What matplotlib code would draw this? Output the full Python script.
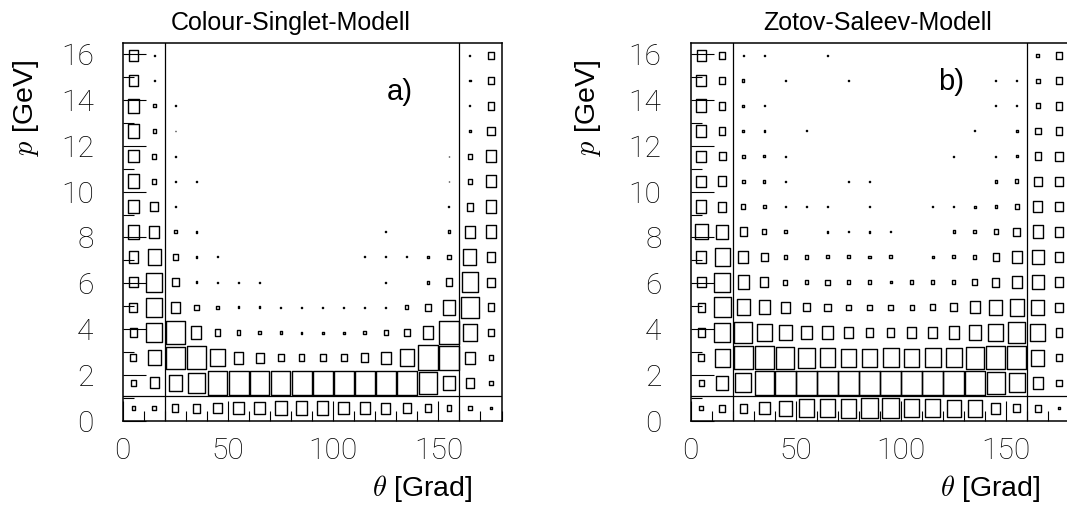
import numpy as np
import matplotlib.pyplot as plt
from matplotlib.patches import Rectangle
from matplotlib.collections import PatchCollection
from matplotlib.ticker import MultipleLocator

plt.rcParams['mathtext.fontset'] = 'cm'

W, H = 1067, 518

# bins: theta 0..180 in 10 deg, p 0..16.5 in 1.1 GeV
theta_edges = np.arange(0, 181, 10)
p_edges = np.linspace(0, 16.5, 16)
theta_cuts = [20, 160]
p_cut = 1.1

# relative box size (percent of the cell) per p bin (rows, low p first), per theta bin
cs_sizes = [
    [16, 19, 29, 35, 40, 48, 50, 57, 55, 55, 50, 48, 44, 38, 30, 22, 18, 11],
    [24, 44, 63, 79, 94, 95, 94, 94, 94, 94, 94, 95, 95, 95, 86, 55, 40, 18],
    [30, 60, 88, 90, 67, 46, 38, 29, 27, 30, 30, 35, 48, 67, 98, 95, 48, 20],
    [33, 76, 88, 48, 27, 18, 15, 10, 8, 8, 8, 15, 17, 27, 50, 94, 70, 30],
    [37, 76, 46, 20, 12, 8, 8, 4, 4, 4, 4, 4, 5, 15, 30, 57, 83, 33],
    [42, 76, 32, 8, 5, 5, 5, 0, 0, 0, 0, 0, 5, 0, 12, 30, 80, 35],
    [45, 63, 22, 6, 4, 0, 0, 0, 0, 0, 0, 4, 4, 4, 8, 17, 62, 41],
    [55, 48, 13, 6, 0, 0, 0, 0, 0, 0, 0, 0, 4, 0, 0, 10, 47, 50],
    [55, 37, 5, 0, 0, 0, 0, 0, 0, 0, 0, 0, 0, 0, 0, 5, 32, 50],
    [55, 19, 3, 3, 0, 0, 0, 0, 0, 0, 0, 0, 0, 0, 0, 3, 19, 48],
    [50, 19, 5, 0, 0, 0, 0, 0, 0, 0, 0, 0, 0, 0, 0, 3, 19, 48],
    [55, 13, 3, 0, 0, 0, 0, 0, 0, 0, 0, 0, 0, 0, 0, 0, 8, 35],
    [55, 13, 3, 0, 0, 0, 0, 0, 0, 0, 0, 0, 0, 0, 0, 0, 5, 30],
    [45, 6, 0, 0, 0, 0, 0, 0, 0, 0, 0, 0, 0, 0, 0, 0, 6, 29],
    [42, 6, 0, 0, 0, 0, 0, 0, 0, 0, 0, 0, 0, 0, 0, 0, 5, 27],
]

zs_sizes = [
    [18, 27, 35, 50, 59, 71, 71, 75, 79, 81, 71, 71, 67, 67, 44, 32, 27, 10],
    [22, 55, 75, 93, 97, 97, 97, 97, 97, 97, 97, 97, 97, 97, 86, 75, 48, 25],
    [28, 71, 90, 90, 86, 79, 75, 71, 70, 76, 71, 75, 75, 86, 90, 92, 62, 30],
    [33, 76, 86, 71, 59, 50, 48, 41, 37, 35, 40, 40, 48, 59, 71, 80, 70, 32],
    [35, 80, 63, 55, 43, 32, 30, 22, 20, 20, 20, 25, 32, 48, 60, 67, 62, 35],
    [42, 76, 54, 37, 20, 18, 20, 15, 13, 10, 15, 15, 17, 25, 35, 50, 58, 38],
    [45, 71, 48, 32, 15, 13, 12, 12, 10, 12, 0, 10, 12, 15, 30, 48, 57, 38],
    [60, 55, 35, 20, 12, 0, 8, 5, 7, 5, 0, 0, 10, 12, 20, 32, 50, 40],
    [50, 40, 18, 13, 6, 5, 6, 0, 6, 0, 0, 5, 5, 8, 12, 18, 42, 37],
    [45, 40, 13, 10, 5, 0, 0, 4, 5, 0, 0, 0, 0, 0, 10, 15, 35, 35],
    [45, 32, 13, 8, 5, 0, 0, 0, 0, 0, 0, 0, 4, 0, 4, 10, 30, 35],
    [48, 30, 8, 6, 0, 4, 0, 0, 0, 0, 0, 0, 0, 4, 0, 10, 26, 32],
    [50, 30, 8, 3, 0, 0, 0, 0, 0, 0, 0, 0, 0, 0, 4, 5, 20, 32],
    [45, 27, 10, 0, 5, 0, 0, 4, 0, 0, 0, 0, 0, 0, 5, 4, 16, 30],
    [42, 27, 5, 4, 0, 0, 5, 0, 0, 0, 0, 0, 0, 0, 0, 0, 15, 30],
]

titles = ['Colour-Singlet-Modell', 'Zotov-Saleev-Modell']
tags = ['a)', 'b)']


def px(x, y):
    return x / W, 1 - y / H


def draw_boxes(ax, sizes):
    s = np.array(sizes) / 100.0
    rects = []
    for j in range(s.shape[0]):
        for i in range(s.shape[1]):
            f = s[j, i]
            if f <= 0:
                continue
            w = (theta_edges[i + 1] - theta_edges[i]) * f
            h = (p_edges[j + 1] - p_edges[j]) * f
            cx = (theta_edges[i] + theta_edges[i + 1]) / 2
            cy = (p_edges[j] + p_edges[j + 1]) / 2
            rects.append(Rectangle((cx - w / 2, cy - h / 2), w, h))
    ax.add_collection(PatchCollection(rects, facecolor='none',
                                      edgecolor='black', linewidth=1.0))


fig = plt.figure(figsize=(W / 100, H / 100), dpi=100)

lefts = [122.8, 690.7]
for k, (sizes, left) in enumerate(zip([cs_sizes, zs_sizes], lefts)):
    ax = fig.add_axes([left / W, (H - 420.7) / H, 378.7 / W, 377.9 / H])
    draw_boxes(ax, sizes)
    for t in theta_cuts:
        ax.axvline(t, color='black', lw=0.9)
    ax.axhline(p_cut, color='black', lw=0.9)
    ax.set_xlim(0, 180)
    ax.set_ylim(0, 16.5)
    for sp in ax.spines.values():
        sp.set_linewidth(1.1)

    ax.xaxis.set_major_locator(MultipleLocator(50))
    ax.xaxis.set_minor_locator(MultipleLocator(10))
    ax.yaxis.set_major_locator(MultipleLocator(2))
    ax.yaxis.set_minor_locator(MultipleLocator(1))
    ax.tick_params(axis='both', which='both', direction='in', top=False, right=False,
                   width=0.8, labelsize=21.5)
    ax.tick_params(axis='x', which='major', length=14.4, pad=12)
    ax.tick_params(axis='x', which='minor', length=7.2)
    ax.tick_params(axis='y', which='major', length=16.3, pad=21)
    ax.tick_params(axis='y', which='minor', length=8)
    for lab in ax.get_xticklabels() + ax.get_yticklabels():
        lab.set_family('Roboto')
        lab.set_fontweight('light')

    ax.text(131.7 if k == 0 else 123.7, 14.37 if k == 0 else 14.77, tags[k],
            fontsize=21, family='Liberation Sans', ha='center', va='center')

# titles and axis labels
fig.text(*px(291, 23), titles[0], fontsize=18, family='Liberation Sans', ha='center', va='center')
fig.text(*px(878, 23), titles[1], fontsize=18, family='Liberation Sans', ha='center', va='center')
for xr, yc in [(472, 489), (1040, 489)]:
    fig.text(*px(xr, yc), r'$\theta$ [Grad]', fontsize=20.5, family='Liberation Sans',
             ha='right', va='center')
for xc in [26, 588]:
    fig.text(*px(xc, 108), r'$p$ [GeV]', fontsize=20.5, family='Liberation Sans',
             rotation=90, ha='center', va='center')

fig.savefig('out.png', dpi=100)
